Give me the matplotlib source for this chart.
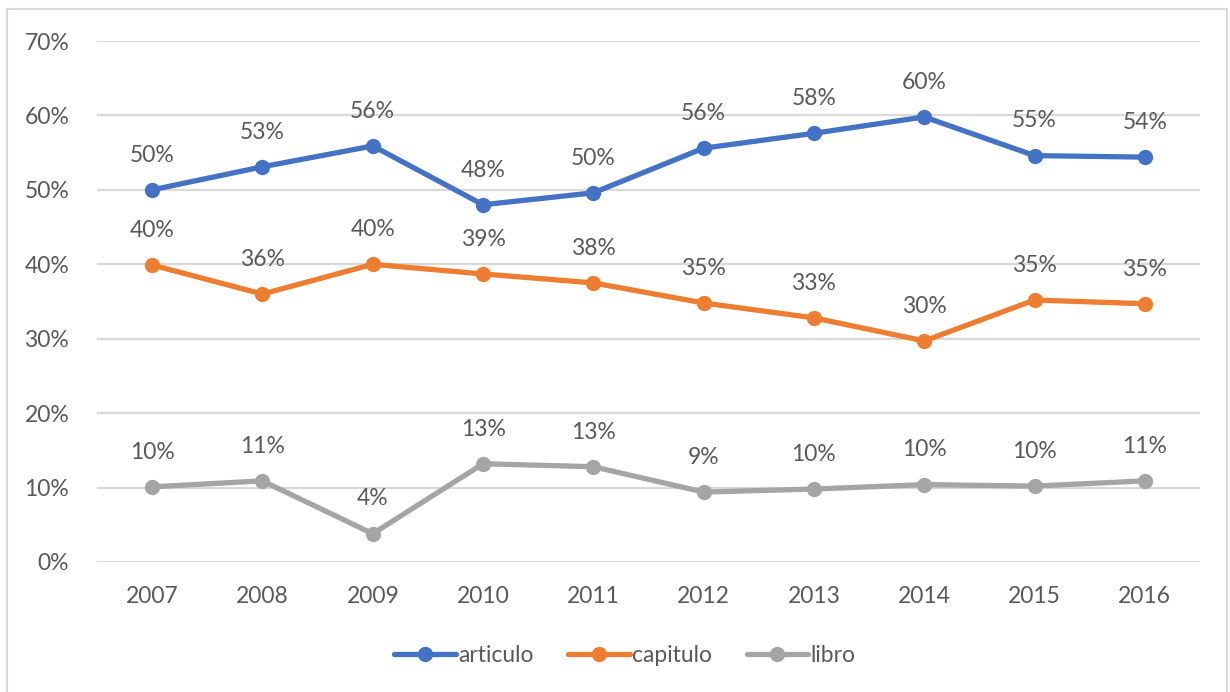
import matplotlib.pyplot as plt
from matplotlib.patches import Rectangle

years = ['2007', '2008', '2009', '2010', '2011', '2012', '2013', '2014', '2015', '2016']
articulo = [0.500, 0.531, 0.559, 0.480, 0.496, 0.556, 0.576, 0.598, 0.546, 0.544]
capitulo = [0.399, 0.360, 0.400, 0.387, 0.375, 0.348, 0.328, 0.297, 0.352, 0.347]
libro = [0.101, 0.109, 0.038, 0.132, 0.128, 0.094, 0.098, 0.104, 0.102, 0.109]

series = [('articulo', articulo, '#4472C4'),
          ('capitulo', capitulo, '#ED7D31'),
          ('libro', libro, '#A5A5A5')]

text_color = '#595959'
plt.rcParams['font.family'] = ['Lato', 'DejaVu Sans']

fig = plt.figure(figsize=(12.3, 6.92), dpi=100)
ax = fig.add_axes([97 / 1230, 1 - 562 / 692, 1103 / 1230, 521 / 692])

x = list(range(len(years)))
for name, vals, color in series:
    ax.plot(x, vals, color=color, linewidth=3.8, marker='o', markersize=10,
            label=name, solid_capstyle='round', zorder=3)
    for xi, v in zip(x, vals):
        ax.annotate(f'{round(v * 100):.0f}%', (xi, v), xytext=(0, 25),
                    textcoords='offset points', ha='center', va='center',
                    fontsize=16.5, color=text_color)

ax.set_xlim(-0.5, len(years) - 0.5)
ax.set_ylim(0, 0.7)
ax.set_yticks([i / 10 for i in range(8)])
ax.set_yticklabels([f'{i * 10}%' for i in range(8)])
ax.set_xticks(x)
ax.set_xticklabels(years)
ax.tick_params(length=0, labelsize=16.5, labelcolor=text_color)
ax.tick_params(axis='x', pad=17)
ax.tick_params(axis='y', pad=20)
ax.grid(axis='y', color='#D9D9D9', linewidth=1.6)
ax.set_axisbelow(True)
for s in ax.spines.values():
    s.set_visible(False)

fig.legend(loc='center', bbox_to_anchor=(0.508, 1 - 656 / 692), ncol=3,
           frameon=False, fontsize=16.5, labelcolor=text_color,
           handlelength=2.7, handletextpad=0.1, columnspacing=1.5)

fig.patches.append(Rectangle((7 / 1230, -0.02), 1220 / 1230, 0.02 + 1 - 9 / 692,
                             transform=fig.transFigure, fill=False,
                             edgecolor='#D9D9D9', linewidth=1.5))

fig.savefig('out.png', dpi=100)
